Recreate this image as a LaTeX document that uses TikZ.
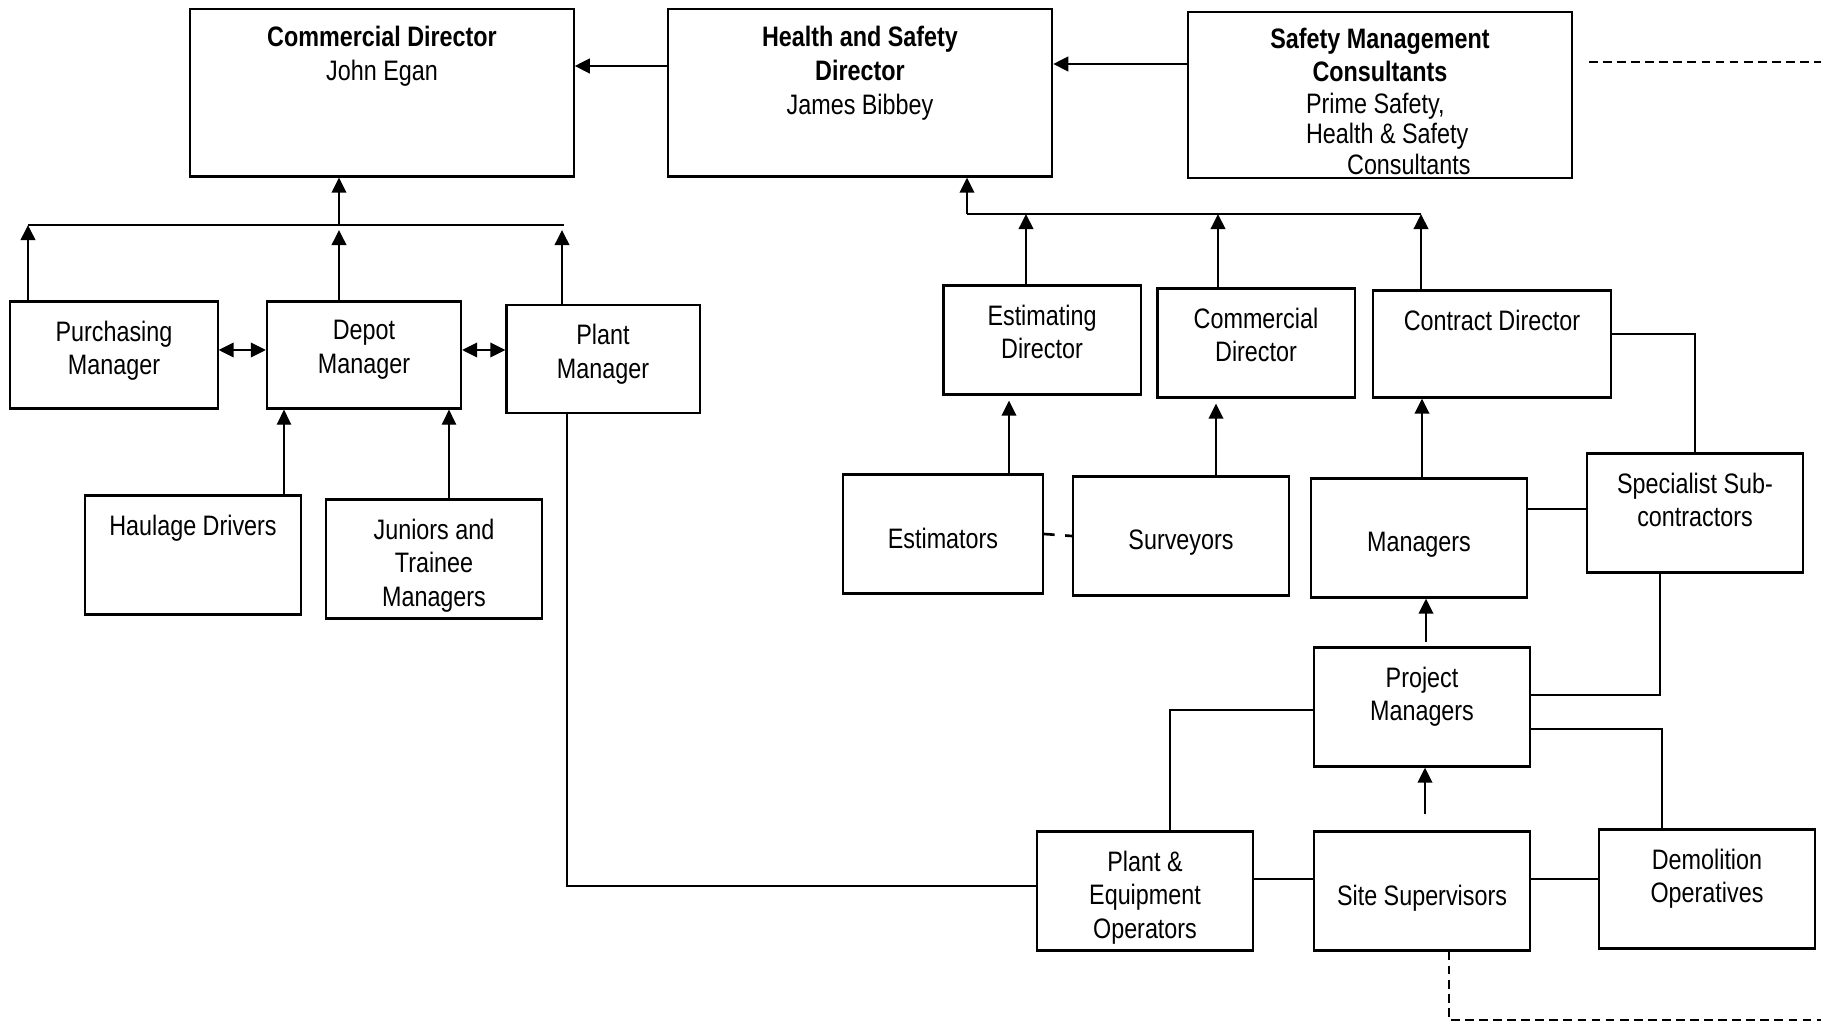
\documentclass[tikz,border=0pt]{standalone}
\usepackage{fontspec}
\setmainfont{Liberation Sans}[FakeStretch=0.83]
\usetikzlibrary{arrows.meta}

\begin{document}
\begin{tikzpicture}[x=0.01cm, y=-0.01cm,
    every node/.style={font=\fontsize{8}{9.6}\selectfont},
    box/.style={draw, line width=0.6pt, inner sep=0pt, align=center},
    unit/.style={box, minimum width=2.16cm, minimum height=1.19cm},
    txt/.style={anchor=north, inner sep=0pt, align=center, yshift=-0.195cm},
    headtxt/.style={anchor=north, inner sep=0pt, align=center, yshift=-0.17cm},
    midtxt/.style={anchor=north, inner sep=0pt, align=center, yshift=-0.54cm},
    link/.style={line width=0.75pt},
    arr/.style={link, -{Triangle[length=4.3pt,width=4.1pt]}},
    twoway/.style={link, {Triangle[length=4.3pt,width=4.1pt]}-{Triangle[length=4.3pt,width=4.1pt]}},
    fine/.style={line width=0.35pt},
    finearr/.style={fine, -{Triangle[length=4.3pt,width=4.1pt]}},
    offpage/.style={line width=0.5pt, dash pattern=on 2.5pt off 1.5pt}]
    \useasboundingbox (0,0) rectangle (1821,1022);

    \node[box, minimum width=3.83cm, minimum height=1.67cm,
        label={[headtxt]north:{\textbf{Commercial Director}\\John Egan}}] (comdir) at (382,93) {};
    \node[box, minimum width=3.84cm, minimum height=1.67cm,
        label={[headtxt]north:{\textbf{Health and Safety}\\\textbf{Director}\\James Bibbey}}] (hsdir) at (860,93) {};
    \node[box, minimum width=3.84cm, minimum height=1.66cm,
        label={[headtxt, font=\fontsize{8}{9.2}\selectfont]north:{\textbf{Safety Management}\\\textbf{Consultants}}},
        label={[anchor=north west, inner sep=0pt, align=left, xshift=1.185cm, yshift=-0.81cm,
            font=\fontsize{8}{8.8}\selectfont]north west:{Prime Safety,\\Health \& Safety\\\hspace*{0.41cm}Consultants}}] (smc) at (1380,95) {};

    \node[box, minimum width=2.07cm, minimum height=1.07cm,
        label={[txt]north:{Purchasing\\Manager}}] (purch) at (114,355) {};
    \node[box, minimum width=1.94cm, minimum height=1.07cm,
        label={[txt]north:{Depot\\Manager}}] (depot) at (364,355) {};
    \node[box, minimum width=1.93cm, minimum height=1.08cm,
        label={[txt]north:{Plant\\Manager}}] (plantmgr) at (603,359) {};
    \node[unit, label={[txt]north:{Haulage Drivers}}] (haulage) at (193,555) {};
    \node[unit, label={[txt]north:{Juniors and\\Trainee\\Managers}}] (juniors) at (434,559) {};

    \node[box, minimum width=1.97cm, minimum height=1.09cm,
        label={[txt]north:{Estimating\\Director}}] (estdir) at (1042,340) {};
    \node[box, minimum width=1.97cm, minimum height=1.09cm,
        label={[txt]north:{Commercial\\Director}}] (comdirb) at (1256,343) {};
    \node[box, minimum width=2.38cm, minimum height=1.07cm,
        label={[txt]north:{Contract Director}}] (contract) at (1492,344) {};

    \node[unit, minimum width=2.0cm, label={[midtxt]north:{Estimators}}] (estim) at (943,534) {};
    \node[unit, label={[midtxt]north:{Surveyors}}] (surv) at (1181,536) {};
    \node[unit, label={[midtxt]north:{Managers}}] (managers) at (1419,538) {};
    \node[unit, label={[txt]north:{Specialist Sub-\\contractors}}] (spec) at (1695,513) {};
    \node[unit, label={[txt]north:{Project\\Managers}}] (projmgr) at (1422,707) {};
    \node[unit, label={[txt]north:{Plant \&\\Equipment\\Operators}}] (plantop) at (1145,891) {};
    \node[unit, label={[midtxt]north:{Site Supervisors}}] (sitesup) at (1422,891) {};
    \node[unit, label={[txt]north:{Demolition\\Operatives}}] (demol) at (1707,889) {};

    \coordinate (busL) at (28,225);
    \coordinate (busD) at (339,225);
    \coordinate (busR) at (562,225);
    \coordinate (busH) at (967,214);
    \coordinate (busHR) at (1421,214);
    \coordinate (smcout) at (1589,62);
    \coordinate (offtop) at (1821,62);
    \coordinate (offbot) at (1821,1020);

    \draw[arr] (hsdir.west |- 0,66) -- (comdir.east |- 0,66);
    \draw[arr] (smc.west |- 0,64) -- (hsdir.east |- 0,64);
    \draw[offpage] (smcout) -- (offtop);

    \draw[link] (busL) -- (564,225);
    \draw[arr] (busD) -- (busD |- comdir.south);
    \draw[arr] (purch.north -| busL) -- (busL);
    \draw[arr] (depot.north -| busD) -- ([yshift=-0.05cm]busD);
    \draw[arr] (plantmgr.north -| busR) -- ([yshift=-0.05cm]busR);
    \draw[twoway] (purch.east |- 0,350) -- (depot.west |- 0,350);
    \draw[twoway] (depot.east |- 0,350) -- (plantmgr.west |- 0,350);
    \draw[finearr] (haulage.north -| 284,0) -- (depot.south -| 284,0);
    \draw[finearr] (juniors.north -| 449,0) -- (depot.south -| 449,0);
    \draw[fine] (plantmgr.south -| 567,0) |- (plantop.west |- 0,886);

    \draw[link] (busH) -- (busHR);
    \draw[arr] (busH) -- (busH |- hsdir.south);
    \draw[arr] (estdir.north -| 1026,0) -- (busH -| 1026,0);
    \draw[arr] (comdirb.north -| 1218,0) -- (busH -| 1218,0);
    \draw[arr] (contract.north -| busHR) -- (busHR);

    \draw[arr] (estim.north -| 1009,0) -- ([yshift=-0.05cm]estdir.south -| 1009,0);
    \draw[arr] (surv.north -| 1216,0) -- ([yshift=-0.05cm]comdirb.south -| 1216,0);
    \draw[arr] (managers.north -| 1422,0) -- (contract.south -| 1422,0);
    \draw[link, dash pattern=on 3pt off 3pt] (estim.east) -- (surv.west);
    \draw[link] (contract.east |- 0,334) -| (spec.north);
    \draw[link] (managers.east |- 0,509) -- (spec.west |- 0,509);

    \draw[arr] ([yshift=0.04cm]projmgr.north -| 1426,0) -- (managers.south -| 1426,0);
    \draw[arr] ([yshift=0.16cm]sitesup.north -| 1425,0) -- (projmgr.south -| 1425,0);
    \draw[link] ([xshift=-0.35cm]spec.south) |- (projmgr.east |- 0,695);
    \draw[link] (projmgr.east |- 0,729) -| ([xshift=-0.45cm]demol.north);
    \draw[link] (projmgr.west |- 0,710) -| ([xshift=0.25cm]plantop.north);
    \draw[link] (plantop.east |- 0,879) -- (sitesup.west |- 0,879);
    \draw[link] (sitesup.east |- 0,879) -- (demol.west |- 0,879);
    \draw[offpage] ([xshift=0.27cm]sitesup.south) |- (offbot);
\end{tikzpicture}
\end{document}
